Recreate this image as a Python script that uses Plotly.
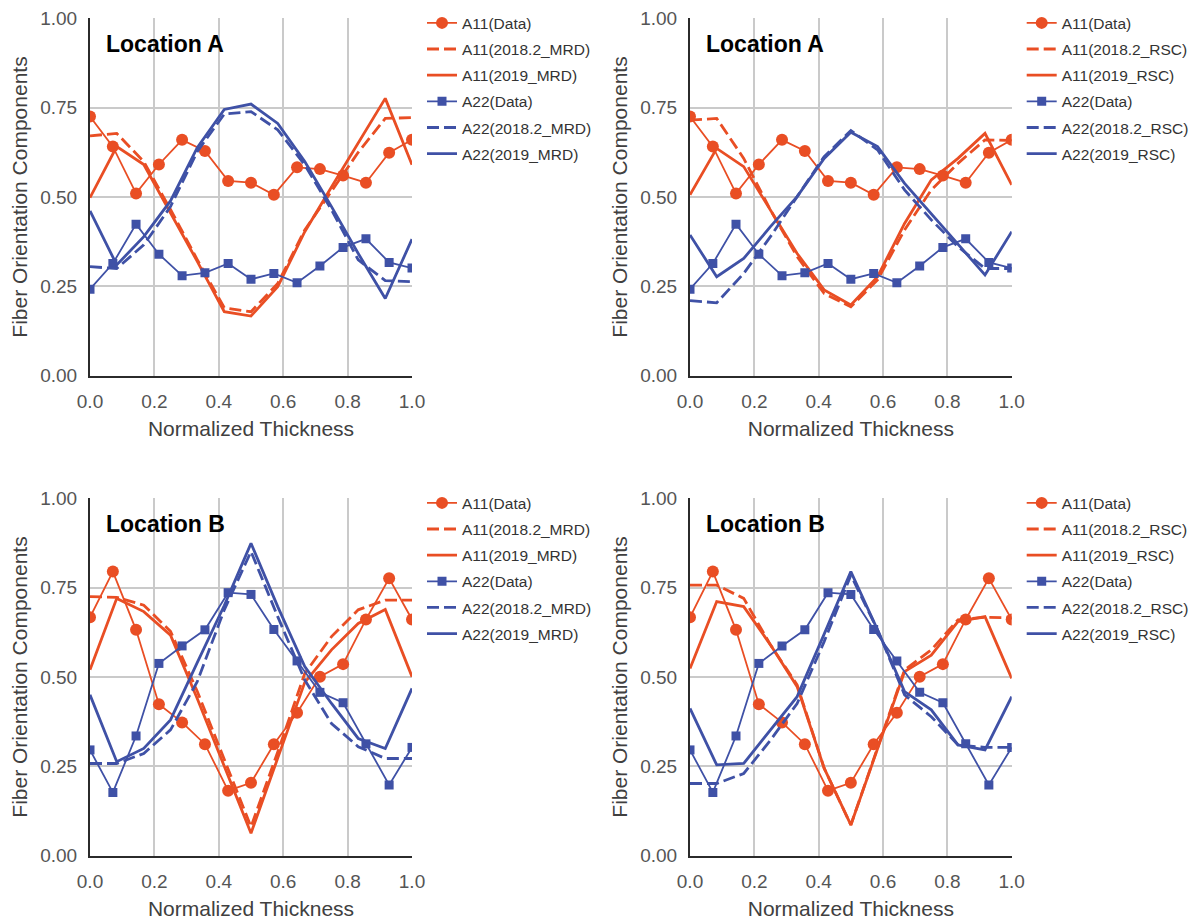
import plotly.graph_objects as go

ORANGE = "#E94E24"
BLUE = "#3F51A6"
FONT = "Liberation Sans, Arial, sans-serif"

# Normalized thickness positions: measured points and model layers
thickness_data = [0.0, 0.071, 0.143, 0.214, 0.286, 0.357, 0.429, 0.5,
                  0.571, 0.643, 0.714, 0.786, 0.857, 0.929, 1.0]
thickness_model = [0.0, 0.083, 0.167, 0.25, 0.333, 0.417, 0.5,
                   0.583, 0.667, 0.75, 0.833, 0.917, 1.0]

# Measured orientation components
a11_data_A = [0.725, 0.641, 0.510, 0.591, 0.660, 0.629, 0.545, 0.540,
              0.506, 0.583, 0.578, 0.560, 0.540, 0.624, 0.660]
a22_data_A = [0.242, 0.314, 0.424, 0.340, 0.280, 0.288, 0.314, 0.270,
              0.286, 0.260, 0.307, 0.359, 0.383, 0.317, 0.301]
a11_data_B = [0.667, 0.795, 0.632, 0.424, 0.373, 0.312, 0.182, 0.204,
              0.312, 0.400, 0.501, 0.536, 0.661, 0.776, 0.661]
a22_data_B = [0.296, 0.177, 0.335, 0.538, 0.587, 0.632, 0.736, 0.731,
              0.633, 0.545, 0.457, 0.428, 0.313, 0.198, 0.303]

# Location A, MRD model
a11_2018_mrd_A = [0.671, 0.678, 0.599, 0.465, 0.325, 0.190, 0.179,
                  0.258, 0.408, 0.515, 0.625, 0.720, 0.722]
a11_2019_mrd_A = [0.498, 0.641, 0.591, 0.456, 0.320, 0.179, 0.167,
                  0.249, 0.403, 0.528, 0.651, 0.776, 0.590]
a22_2018_mrd_A = [0.305, 0.300, 0.366, 0.473, 0.627, 0.732, 0.739,
                  0.688, 0.590, 0.464, 0.324, 0.266, 0.263]
a22_2019_mrd_A = [0.461, 0.310, 0.389, 0.489, 0.638, 0.745, 0.760,
                  0.706, 0.599, 0.473, 0.342, 0.216, 0.382]

# Location A, RSC model
a11_2018_rsc_A = [0.715, 0.720, 0.608, 0.464, 0.333, 0.230, 0.193,
                  0.268, 0.408, 0.520, 0.594, 0.660, 0.658]
a11_2019_rsc_A = [0.506, 0.636, 0.585, 0.464, 0.342, 0.240, 0.198,
                  0.277, 0.426, 0.548, 0.608, 0.678, 0.534]
a22_2018_rsc_A = [0.210, 0.204, 0.286, 0.389, 0.501, 0.613, 0.686,
                  0.632, 0.520, 0.436, 0.361, 0.300, 0.300]
a22_2019_rsc_A = [0.394, 0.277, 0.328, 0.417, 0.501, 0.608, 0.681,
                  0.641, 0.538, 0.454, 0.370, 0.282, 0.403]

# Location B, MRD model
a11_2018_mrd_B = [0.725, 0.723, 0.701, 0.628, 0.460, 0.270, 0.081,
                  0.290, 0.510, 0.613, 0.688, 0.715, 0.715]
a11_2019_mrd_B = [0.520, 0.720, 0.683, 0.617, 0.440, 0.250, 0.063,
                  0.273, 0.485, 0.576, 0.650, 0.689, 0.501]
a22_2018_mrd_B = [0.258, 0.258, 0.286, 0.352, 0.487, 0.688, 0.851,
                  0.669, 0.492, 0.370, 0.305, 0.272, 0.272]
a22_2019_mrd_B = [0.450, 0.263, 0.300, 0.380, 0.540, 0.700, 0.874,
                  0.697, 0.529, 0.426, 0.328, 0.300, 0.468]

# Location B, RSC model
a11_2018_rsc_B = [0.757, 0.757, 0.720, 0.590, 0.478, 0.245, 0.086,
                  0.300, 0.520, 0.576, 0.660, 0.667, 0.666]
a11_2019_rsc_B = [0.524, 0.711, 0.697, 0.590, 0.473, 0.245, 0.086,
                  0.300, 0.515, 0.561, 0.655, 0.669, 0.496]
a22_2018_rsc_B = [0.202, 0.202, 0.230, 0.323, 0.426, 0.599, 0.785,
                  0.632, 0.450, 0.389, 0.310, 0.303, 0.303]
a22_2019_rsc_B = [0.412, 0.254, 0.258, 0.350, 0.445, 0.620, 0.795,
                  0.632, 0.459, 0.408, 0.310, 0.296, 0.445]

y_ticks = [0.0, 0.25, 0.5, 0.75, 1.0]
x_ticks = [0.0, 0.2, 0.4, 0.6, 0.8, 1.0]

W, H = 1201, 924
# panel geometry in pixels: (left, right, top, bottom)
panels = [
    dict(loc="Location A", model="MRD", box=(90, 412, 18.3, 375.7),
         a11d=a11_data_A, a22d=a22_data_A,
         a11_18=a11_2018_mrd_A, a11_19=a11_2019_mrd_A,
         a22_18=a22_2018_mrd_A, a22_19=a22_2019_mrd_A),
    dict(loc="Location A", model="RSC", box=(690, 1011.7, 18.3, 375.7),
         a11d=a11_data_A, a22d=a22_data_A,
         a11_18=a11_2018_rsc_A, a11_19=a11_2019_rsc_A,
         a22_18=a22_2018_rsc_A, a22_19=a22_2019_rsc_A),
    dict(loc="Location B", model="MRD", box=(90, 412, 498.3, 855.7),
         a11d=a11_data_B, a22d=a22_data_B,
         a11_18=a11_2018_mrd_B, a11_19=a11_2019_mrd_B,
         a22_18=a22_2018_mrd_B, a22_19=a22_2019_mrd_B),
    dict(loc="Location B", model="RSC", box=(690, 1011.7, 498.3, 855.7),
         a11d=a11_data_B, a22d=a22_data_B,
         a11_18=a11_2018_rsc_B, a11_19=a11_2019_rsc_B,
         a22_18=a22_2018_rsc_B, a22_19=a22_2019_rsc_B),
]

fig = go.Figure()
layout = dict(
    width=W, height=H,
    margin=dict(l=0, r=0, t=0, b=0),
    paper_bgcolor="white", plot_bgcolor="white",
    font=dict(family=FONT, color="#404040"),
    showlegend=True,
    annotations=[],
)

DASH = "12px,5px"

for k, p in enumerate(panels, start=1):
    sfx = "" if k == 1 else str(k)
    xa, ya = "x" + sfx, "y" + sfx
    lg = "legend" + sfx
    left, right, top, bottom = p["box"]
    m = p["model"]

    series = [
        ("A11(Data)", thickness_data, p["a11d"], ORANGE, "solid", 1.8,
         dict(symbol="circle", size=12, color=ORANGE), "lines+markers"),
        (f"A11(2018.2_{m})", thickness_model, p["a11_18"], ORANGE, DASH, 2.8,
         None, "lines"),
        (f"A11(2019_{m})", thickness_model, p["a11_19"], ORANGE, "solid", 2.8,
         None, "lines"),
        ("A22(Data)", thickness_data, p["a22d"], BLUE, "solid", 1.8,
         dict(symbol="square", size=9, color=BLUE), "lines+markers"),
        (f"A22(2018.2_{m})", thickness_model, p["a22_18"], BLUE, DASH, 2.8,
         None, "lines"),
        (f"A22(2019_{m})", thickness_model, p["a22_19"], BLUE, "solid", 2.8,
         None, "lines"),
    ]
    for j, (name, xs, ys, col, dash, lw, mk, mode) in enumerate(series):
        tr = dict(x=xs, y=ys, name=name, mode=mode,
                  line=dict(color=col, width=lw, dash=dash),
                  xaxis=xa, yaxis=ya, legend=lg,
                  legendgroup=f"p{k}s{j}")
        if mk:
            tr["marker"] = mk
        fig.add_trace(go.Scatter(**tr))

    layout["xaxis" + sfx] = dict(
        domain=[left / W, right / W], anchor=ya, range=[0, 1],
        tickvals=x_ticks, tickformat=".1f",
        showgrid=True, gridcolor="#CACACA", gridwidth=1.5,
        showline=True, linecolor="#2B2B2B", linewidth=2,
        zeroline=False, ticks="", ticklabelstandoff=7,
        tickfont=dict(size=19, color="#555555", family=FONT),
        title=dict(text="Normalized Thickness", standoff=11,
                   font=dict(size=21, color="#404040", family=FONT)),
        automargin=False,
    )
    layout["yaxis" + sfx] = dict(
        domain=[1 - bottom / H, 1 - top / H], anchor=xa, range=[0, 1],
        tickvals=y_ticks, tickformat=".2f",
        showgrid=True, gridcolor="#CACACA", gridwidth=1.5,
        showline=True, linecolor="#2B2B2B", linewidth=2,
        zeroline=False, ticks="", ticklabelstandoff=7,
        tickfont=dict(size=19, color="#555555", family=FONT),
        title=dict(text="Fiber Orientation Components", standoff=7,
                   font=dict(size=21, color="#404040", family=FONT)),
        automargin=False,
    )
    layout[lg] = dict(
        x=(right + 10) / W, y=1 - (top - 12) / H,
        xanchor="left", yanchor="top",
        bgcolor="rgba(0,0,0,0)", borderwidth=0,
        font=dict(size=15.5, color="#333333", family=FONT),
        tracegroupgap=3, itemwidth=30,
    )
    layout["annotations"].append(dict(
        text="<b>" + p["loc"] + "</b>", xref=xa + " domain", yref=ya + " domain",
        x=0.043, y=0.928, xanchor="left", yanchor="middle", showarrow=False,
        font=dict(size=23, color="black", family=FONT),
    ))

fig.update_layout(**layout)
fig.write_html("out.html")
